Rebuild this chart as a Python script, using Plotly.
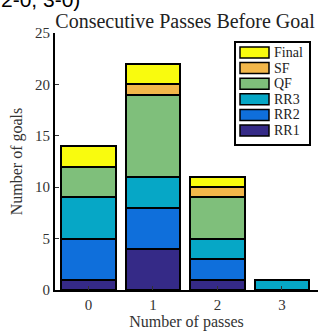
import plotly.graph_objects as go

categories = [0, 1, 2, 3]
tick_labels = ["0", "1", "2", "3"]
series_names = ["RR1", "RR2", "RR3", "QF", "SF", "Final"]
rr1 = [1, 4, 1, 0]
rr2 = [4, 4, 2, 0]
rr3 = [4, 3, 2, 1]
qf = [3, 8, 4, 0]
sf = [0, 1, 1, 0]
final = [2, 2, 1, 0]
series_values = [rr1, rr2, rr3, qf, sf, final]
colors = ["#352a87", "#0f6fdb", "#06a7c6", "#7fbf7b", "#f2b74a", "#f9fb0e"]

FONT = "Liberation Serif"
W, H = 322, 331
L, R, T, B = 55, 4, 33, 41
PW, PH = W - L - R, H - T - B

def px(x):
    return (x - L) / PW

def py(y):
    return (H - B - y) / PH

fig = go.Figure()
for name, vals, col in zip(series_names, series_values, colors):
    fig.add_trace(go.Bar(
        x=categories, y=vals, name=name,
        marker=dict(color=col, line=dict(color="black", width=2)),
        width=0.85, showlegend=False,
    ))

fig.update_layout(
    barmode="stack",
    width=W, height=H,
    margin=dict(l=L, r=R, t=T, b=B, autoexpand=False),
    paper_bgcolor="white", plot_bgcolor="white",
    font=dict(family=FONT, color="#222", size=14),
    title=dict(text="Consecutive Passes Before Goal", xref="paper", x=px(185), xanchor="center",
               yref="container", y=1 - 21/H, yanchor="middle",
               font=dict(family=FONT, size=20, color="#222")),
    xaxis=dict(tickmode="array", tickvals=categories, ticktext=tick_labels,
               range=[-0.52, 3.56], showline=True, linecolor="black", linewidth=2,
               ticks="inside", ticklen=4, tickcolor="#333", showgrid=False, zeroline=False,
               automargin=False,
               title=dict(text="Number of passes", font=dict(family=FONT, size=16, color="#333"), standoff=6),
               tickfont=dict(family=FONT, size=15, color="#333")),
    yaxis=dict(range=[0, 25], tickvals=[0, 5, 10, 15, 20, 25], showline=True,
               linecolor="black", linewidth=2, ticks="inside", ticklen=4, tickcolor="#333",
               showgrid=False, zeroline=False, automargin=False,
               title=dict(text="Number of goals", font=dict(family=FONT, size=16, color="#333"), standoff=8),
               tickfont=dict(family=FONT, size=15, color="#333")),
)

# legend drawn as a box with swatches (legend order: top = last series)
lx0, ly0, lx1, ly1 = 235, 42, 310, 145
fig.add_shape(type="rect", xref="paper", yref="paper", x0=px(lx0), x1=px(lx1),
              y0=py(ly1), y1=py(ly0), line=dict(color="black", width=2), fillcolor="white")
for i, (name, col) in enumerate(zip(series_names[::-1], colors[::-1])):
    yc = 52.5 + i * 15.6
    fig.add_shape(type="rect", xref="paper", yref="paper", x0=px(240), x1=px(269),
                  y0=py(yc + 5.5), y1=py(yc - 5.5), line=dict(color="black", width=1.5),
                  fillcolor=col)
    fig.add_annotation(text=name, xref="paper", yref="paper", x=px(272), y=py(yc),
                       xanchor="left", yanchor="middle", showarrow=False,
                       font=dict(family=FONT, size=14, color="#222"))

fig.add_annotation(text="2-0, 3-0)", xref="paper", yref="paper", x=px(-1), y=py(13),
                   xanchor="left", yanchor="bottom", showarrow=False,
                   font=dict(family="Liberation Sans", size=21, color="black"))
fig.write_html("out.html", config={"displayModeBar": False},
               post_script="document.body.style.margin='0';document.body.style.overflow='hidden';")
